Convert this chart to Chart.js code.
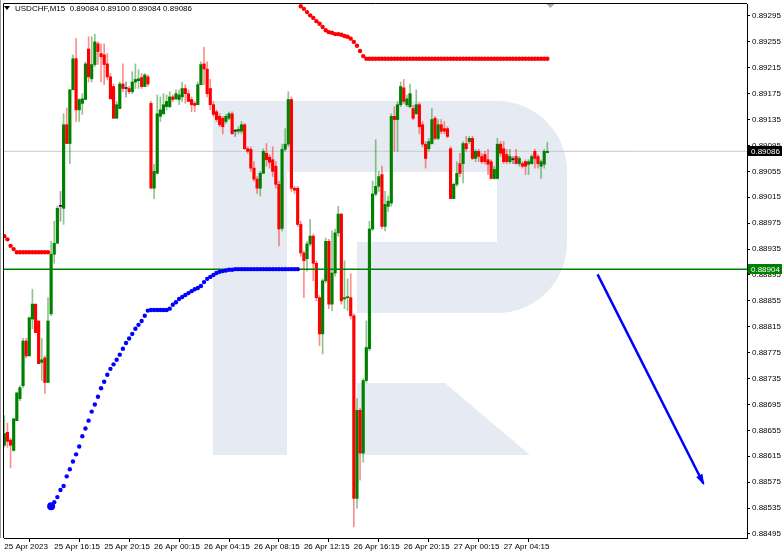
<!DOCTYPE html>
<html>
<head>
<meta charset="utf-8">
<title>USDCHF M15</title>
<script src="https://cdn.jsdelivr.net/npm/chart.js@4.4.0/dist/chart.umd.min.js"></script>
<style>
  html, body { margin: 0; padding: 0; background: #fff; }
  #root { width: 782px; height: 555px; }
</style>
</head>
<body>
<div id="root"><canvas id="myChart" width="782" height="555"></canvas></div>
<script>
const $i = document.getElementById.bind(document);

const symbol = "USDCHF,M15";

// time axis: bar index where each label sits
const xTickIdx = [0, 16, 32, 48, 64, 80, 96, 112, 128, 144, 160];
const xTickLabels = ["25 Apr 2023", "25 Apr 16:15", "25 Apr 20:15", "26 Apr 00:15", "26 Apr 04:15",
    "26 Apr 08:15", "26 Apr 12:15", "26 Apr 16:15", "26 Apr 20:15", "27 Apr 00:15", "27 Apr 04:15"];

// price axis
const yTicks = [0.88495, 0.88535, 0.88575, 0.88615, 0.88655, 0.88695, 0.88735, 0.88775, 0.88815, 0.88855,
    0.88895, 0.88935, 0.88975, 0.89015, 0.89055, 0.89095, 0.89135, 0.89175, 0.89215, 0.89255, 0.89295];

// M15 candles
const openP = [
0.88632, 0.88652, 0.88640, 0.88624, 0.88670, 0.88704, 0.88724, 0.88793, 0.88770, 0.88827,
0.88850, 0.88824, 0.88760, 0.88767, 0.88729, 0.88835, 0.88927, 0.88944, 0.89001, 0.88998,
0.89127, 0.89098, 0.89181, 0.89229, 0.89150, 0.89160, 0.89166, 0.89244, 0.89198, 0.89220,
0.89252, 0.89237, 0.89235, 0.89221, 0.89201, 0.89186, 0.89137, 0.89152, 0.89190, 0.89183,
0.89183, 0.89178, 0.89193, 0.89195, 0.89200, 0.89186, 0.89201, 0.89160, 0.89029, 0.89052,
0.89140, 0.89144, 0.89155, 0.89155, 0.89170, 0.89167, 0.89166, 0.89170, 0.89183, 0.89175,
0.89166, 0.89160, 0.89158, 0.89189, 0.89221, 0.89213, 0.89183, 0.89158, 0.89147,
0.89140, 0.89137, 0.89132, 0.89137, 0.89144, 0.89117, 0.89117, 0.89117, 0.89127, 0.89090,
0.89089, 0.89060, 0.89043, 0.89029, 0.89052, 0.89083, 0.89077, 0.89073, 0.89063, 0.89035,
0.88967, 0.89089, 0.89097, 0.89166, 0.89029, 0.89029, 0.88973, 0.88929, 0.88920, 0.88943,
0.88955, 0.88913, 0.88860, 0.88804, 0.88886, 0.88947, 0.88850, 0.88898, 0.88960, 0.88989,
0.88858, 0.88860, 0.88860, 0.88832, 0.88550, 0.88686, 0.88620, 0.88732, 0.88781, 0.88966,
0.89020, 0.89032, 0.89050, 0.88970, 0.89001, 0.89006, 0.89140, 0.89135, 0.89158, 0.89184,
0.89158, 0.89155, 0.89152, 0.89144, 0.89158, 0.89127, 0.89097, 0.89090, 0.89098, 0.89137,
0.89106, 0.89127, 0.89121, 0.89121, 0.89090, 0.89013, 0.89035, 0.89067, 0.89067, 0.89098,
0.89101, 0.89106, 0.89075, 0.89086, 0.89078, 0.89081, 0.89073, 0.89070, 0.89044,
0.89044, 0.89097, 0.89090, 0.89081, 0.89070, 0.89073, 0.89078, 0.89067, 0.89067, 0.89070,
0.89066, 0.89067, 0.89086, 0.89078, 0.89063, 0.89066, 0.89084
];
const highP = [
0.88678, 0.88666, 0.88643, 0.88673, 0.88713, 0.88724, 0.88797, 0.88797, 0.88830, 0.88873,
0.88850, 0.88824, 0.88797, 0.88770, 0.88860, 0.88947, 0.88978, 0.89001, 0.89024, 0.89144,
0.89153, 0.89181, 0.89235, 0.89260, 0.89167, 0.89175, 0.89224, 0.89263, 0.89263, 0.89267,
0.89255, 0.89252, 0.89252, 0.89237, 0.89206, 0.89190, 0.89163, 0.89193, 0.89221, 0.89193,
0.89186, 0.89209, 0.89221, 0.89212, 0.89206, 0.89206, 0.89204, 0.89163, 0.89066, 0.89173,
0.89170, 0.89175, 0.89173, 0.89178, 0.89173, 0.89181, 0.89181, 0.89193, 0.89189, 0.89181,
0.89170, 0.89163, 0.89193, 0.89224, 0.89247, 0.89224, 0.89197, 0.89163, 0.89150,
0.89144, 0.89140, 0.89143, 0.89147, 0.89147, 0.89120, 0.89124, 0.89132, 0.89129, 0.89093,
0.89093, 0.89070, 0.89047, 0.89055, 0.89090, 0.89098, 0.89081, 0.89093, 0.89070, 0.89040,
0.89097, 0.89121, 0.89178, 0.89170, 0.89032, 0.89032, 0.88978, 0.88932, 0.88947, 0.88981,
0.88958, 0.88917, 0.88863, 0.88889, 0.88952, 0.88950, 0.88963, 0.88966, 0.89001, 0.88990,
0.88917, 0.88889, 0.88897, 0.88835, 0.88704, 0.88689, 0.88735, 0.88824, 0.88978, 0.89040,
0.89104, 0.89055, 0.89063, 0.89024, 0.89017, 0.89144, 0.89155, 0.89163, 0.89193, 0.89197,
0.89173, 0.89190, 0.89157, 0.89181, 0.89161, 0.89132, 0.89101, 0.89106, 0.89152, 0.89140,
0.89135, 0.89135, 0.89132, 0.89124, 0.89093, 0.89037, 0.89070, 0.89083, 0.89101, 0.89109,
0.89109, 0.89109, 0.89089, 0.89089, 0.89083, 0.89086, 0.89089, 0.89073, 0.89063,
0.89106, 0.89101, 0.89101, 0.89089, 0.89089, 0.89078, 0.89089, 0.89078, 0.89070, 0.89073,
0.89073, 0.89081, 0.89089, 0.89081, 0.89073, 0.89089, 0.89100
];
const lowP = [
0.88629, 0.88629, 0.88597, 0.88623, 0.88670, 0.88701, 0.88721, 0.88767, 0.88770, 0.88812,
0.88806, 0.88758, 0.88732, 0.88712, 0.88729, 0.88832, 0.88913, 0.88944, 0.88978, 0.88973,
0.89098, 0.89067, 0.89181, 0.89132, 0.89132, 0.89143, 0.89166, 0.89193, 0.89193, 0.89217,
0.89220, 0.89193, 0.89189, 0.89197, 0.89167, 0.89137, 0.89137, 0.89152, 0.89178, 0.89170,
0.89175, 0.89175, 0.89183, 0.89183, 0.89183, 0.89186, 0.89187, 0.89029, 0.89013, 0.89052,
0.89132, 0.89143, 0.89150, 0.89153, 0.89163, 0.89166, 0.89158, 0.89163, 0.89160, 0.89163,
0.89147, 0.89147, 0.89158, 0.89189, 0.89189, 0.89170, 0.89150, 0.89140, 0.89132,
0.89124, 0.89113, 0.89129, 0.89135, 0.89113, 0.89109, 0.89113, 0.89113, 0.89089, 0.89083,
0.89055, 0.89040, 0.89021, 0.89017, 0.89052, 0.89063, 0.89060, 0.89047, 0.89029, 0.88940,
0.88963, 0.89086, 0.89093, 0.89024, 0.89021, 0.88970, 0.88924, 0.88860, 0.88901, 0.88940,
0.88886, 0.88855, 0.88786, 0.88773, 0.88883, 0.88843, 0.88840, 0.88893, 0.88955, 0.88850,
0.88843, 0.88840, 0.88827, 0.88506, 0.88535, 0.88578, 0.88606, 0.88729, 0.88778, 0.88963,
0.89017, 0.89024, 0.88966, 0.88963, 0.88993, 0.89001, 0.89086, 0.89086, 0.89155, 0.89160,
0.89155, 0.89153, 0.89135, 0.89143, 0.89113, 0.89093, 0.89060, 0.89086, 0.89097, 0.89104,
0.89104, 0.89113, 0.89113, 0.89107, 0.89013, 0.89013, 0.89032, 0.89047, 0.89037, 0.89086,
0.89098, 0.89073, 0.89070, 0.89070, 0.89067, 0.89066, 0.89050, 0.89043, 0.89043,
0.89043, 0.89078, 0.89067, 0.89067, 0.89067, 0.89067, 0.89066, 0.89063, 0.89060, 0.89050,
0.89050, 0.89066, 0.89060, 0.89060, 0.89044, 0.89060, 0.89084
];
const closeP = [
0.88650, 0.88638, 0.88632, 0.88673, 0.88713, 0.88721, 0.88793, 0.88770, 0.88829, 0.88850,
0.88806, 0.88758, 0.88764, 0.88729, 0.88824, 0.88927, 0.88944, 0.88998, 0.89001, 0.89127,
0.89098, 0.89181, 0.89229, 0.89150, 0.89166, 0.89167, 0.89221, 0.89201, 0.89220, 0.89255,
0.89240, 0.89232, 0.89220, 0.89201, 0.89167, 0.89137, 0.89158, 0.89190, 0.89183, 0.89183,
0.89178, 0.89193, 0.89197, 0.89198, 0.89186, 0.89204, 0.89190, 0.89029, 0.89055, 0.89144,
0.89150, 0.89158, 0.89163, 0.89170, 0.89166, 0.89175, 0.89173, 0.89183, 0.89175, 0.89163,
0.89158, 0.89157, 0.89189, 0.89220, 0.89213, 0.89175, 0.89158, 0.89143, 0.89135,
0.89127, 0.89124, 0.89140, 0.89144, 0.89113, 0.89117, 0.89120, 0.89127, 0.89090, 0.89086,
0.89060, 0.89043, 0.89029, 0.89052, 0.89086, 0.89073, 0.89069, 0.89055, 0.89035, 0.88966,
0.89089, 0.89097, 0.89166, 0.89029, 0.89026, 0.88973, 0.88929, 0.88917, 0.88943, 0.88955,
0.88913, 0.88860, 0.88804, 0.88886, 0.88947, 0.88850, 0.88898, 0.88960, 0.88989, 0.88855,
0.88860, 0.88861, 0.88832, 0.88550, 0.88686, 0.88620, 0.88732, 0.88783, 0.88966, 0.89020,
0.89032, 0.89047, 0.88970, 0.89004, 0.89009, 0.89140, 0.89135, 0.89158, 0.89186, 0.89163,
0.89167, 0.89175, 0.89137, 0.89158, 0.89124, 0.89097, 0.89075, 0.89101, 0.89135, 0.89106,
0.89127, 0.89117, 0.89117, 0.89109, 0.89013, 0.89035, 0.89052, 0.89052, 0.89098, 0.89090,
0.89106, 0.89075, 0.89086, 0.89078, 0.89070, 0.89070, 0.89066, 0.89044, 0.89058,
0.89097, 0.89083, 0.89070, 0.89070, 0.89078, 0.89073, 0.89067, 0.89075, 0.89063, 0.89063,
0.89070, 0.89078, 0.89075, 0.89067, 0.89070, 0.89086, 0.89086
];

// trailing dots indicator (first bar index + values)
const redLowStart = 0;
const redLow = [0.88955, 0.88950, 0.88940, 0.88935, 0.88930, 0.88930, 0.88930, 0.88930, 0.88930, 0.88930,
    0.88930, 0.88930, 0.88930, 0.88930, 0.88930];
const blueStart = 15;
const blueDots = [
0.88538, 0.88544, 0.88552, 0.88563, 0.88569, 0.88584, 0.88595, 0.88607, 0.88618, 0.88630,
0.88646, 0.88658, 0.88670, 0.88684, 0.88695, 0.88707, 0.88720, 0.88730, 0.88741, 0.88750,
0.88757, 0.88764, 0.88772, 0.88781, 0.88790, 0.88797, 0.88804, 0.88812, 0.88818, 0.88824,
0.88832, 0.88840, 0.88841, 0.88841, 0.88841, 0.88841, 0.88841, 0.88841, 0.88843, 0.88849,
0.88853, 0.88858, 0.88861, 0.88864, 0.88867, 0.88870, 0.88873, 0.88875, 0.88878, 0.88884,
0.88889, 0.88892, 0.88895, 0.88898, 0.88900, 0.88901, 0.88902, 0.88903, 0.88903, 0.88904,
0.88904, 0.88904, 0.88904, 0.88904, 0.88904, 0.88904, 0.88904, 0.88904, 0.88904, 0.88904,
0.88904, 0.88904, 0.88904, 0.88904, 0.88904, 0.88904, 0.88904, 0.88904, 0.88904, 0.88904
];
const redTopStart = 95;
const redTop = [
0.89310, 0.89306, 0.89301, 0.89296, 0.89292, 0.89287, 0.89283, 0.89278, 0.89273, 0.89270,
0.89269, 0.89267, 0.89267, 0.89266, 0.89264, 0.89263, 0.89260, 0.89255, 0.89249, 0.89241,
0.89233, 0.89229, 0.89229, 0.89229, 0.89229, 0.89229, 0.89229, 0.89229, 0.89229, 0.89229,
0.89229, 0.89229, 0.89229, 0.89229, 0.89229, 0.89229, 0.89229, 0.89229, 0.89229, 0.89229,
0.89229, 0.89229, 0.89229, 0.89229, 0.89229, 0.89229, 0.89229, 0.89229, 0.89229, 0.89229,
0.89229, 0.89229, 0.89229, 0.89229, 0.89229, 0.89229, 0.89229, 0.89229, 0.89229, 0.89229,
0.89229, 0.89229, 0.89229, 0.89229, 0.89229, 0.89229, 0.89229, 0.89229, 0.89229, 0.89229,
0.89229, 0.89229, 0.89229, 0.89229, 0.89229, 0.89229, 0.89229, 0.89229, 0.89229, 0.89229
];

// horizontal levels
const bidPrice = 0.89086;
const levelPrice = 0.88904;

// forecast arrow [bar index, price]
const arrowFrom = [190.1, 0.88896];
const arrowTo = [224.0, 0.88573];

const page = {

    init: function() {
        this.xMin = -0.1;
        this.xMax = 237.98;
        this.yMin = 0.884888;
        this.yMax = 0.893135;
        this.font = '"Liberation Sans", Arial, sans-serif';
        Chart.defaults.font.family = this.font;
        Chart.defaults.font.size = 8;
        Chart.defaults.color = '#000';
    },

    candleColor: function(i, alpha) {
        if (closeP[i] > openP[i]) return `rgba(0,128,0,${alpha})`;
        if (closeP[i] < openP[i]) return `rgba(255,0,0,${alpha})`;
        return `rgba(30,30,30,${alpha})`;
    },

    dots: function(start, values) {
        return values.map((v, k) => ({ x: start + k, y: v }));
    },

    // big light "R" behind the candles
    drawLogo: function(ctx, a) {
        ctx.save();
        ctx.beginPath();
        ctx.rect(a.left, a.top, a.width, a.height);
        ctx.clip();
        ctx.fillStyle = '#E6EBF3';
        ctx.fillRect(213, 101, 74, 354);
        ctx.beginPath();
        ctx.moveTo(213, 101);
        ctx.lineTo(497, 101);
        ctx.arcTo(567, 101, 567, 171, 70);
        ctx.lineTo(567, 243);
        ctx.arcTo(567, 313, 497, 313, 70);
        ctx.lineTo(357, 313);
        ctx.lineTo(357, 242);
        ctx.lineTo(497, 242);
        ctx.lineTo(497, 172);
        ctx.lineTo(213, 172);
        ctx.closePath();
        ctx.fill();
        ctx.beginPath();
        ctx.moveTo(357, 383);
        ctx.lineTo(445, 383);
        ctx.lineTo(530, 455);
        ctx.lineTo(357, 455);
        ctx.closePath();
        ctx.fill();
        ctx.restore();
    },

    priceBox: function(ctx, y, text, bg) {
        ctx.fillStyle = bg;
        ctx.fillRect(748, Math.round(y) - 5, 34, 10);
        ctx.fillStyle = '#fff';
        ctx.textBaseline = 'middle';
        ctx.textAlign = 'left';
        ctx.fillText(text, 751, Math.round(y) + 0.5);
    },

    overlay: function() {
        const self = this;
        return {
            id: 'overlay',
            beforeDatasetsDraw(chart) {
                self.drawLogo(chart.ctx, chart.chartArea);
            },
            afterDraw(chart) {
                const ctx = chart.ctx, a = chart.chartArea;
                const xs = chart.scales.x, ys = chart.scales.y;
                ctx.save();
                // frame left + top
                ctx.strokeStyle = '#000';
                ctx.lineWidth = 1;
                ctx.beginPath();
                ctx.moveTo(a.left - 0.5, a.bottom);
                ctx.lineTo(a.left - 0.5, a.top - 0.5);
                ctx.lineTo(a.right, a.top - 0.5);
                ctx.stroke();
                ctx.strokeStyle = '#999';
                ctx.beginPath();
                ctx.moveTo(0.5, 0);
                ctx.lineTo(0.5, a.bottom);
                ctx.stroke();

                // arrow head
                const x1 = xs.getPixelForValue(arrowFrom[0]), y1 = ys.getPixelForValue(arrowFrom[1]);
                const x2 = xs.getPixelForValue(arrowTo[0]), y2 = ys.getPixelForValue(arrowTo[1]);
                const ang = Math.atan2(y2 - y1, x2 - x1);
                ctx.fillStyle = '#0000FF';
                ctx.beginPath();
                ctx.moveTo(x2 + 2 * Math.cos(ang), y2 + 2 * Math.sin(ang));
                ctx.lineTo(x2 - 9 * Math.cos(ang) + 3.5 * Math.sin(ang), y2 - 9 * Math.sin(ang) - 3.5 * Math.cos(ang));
                ctx.lineTo(x2 - 9 * Math.cos(ang) - 3.5 * Math.sin(ang), y2 - 9 * Math.sin(ang) + 3.5 * Math.cos(ang));
                ctx.closePath();
                ctx.fill();

                // shift marker
                const mx = xs.getPixelForValue(openP.length);
                ctx.fillStyle = '#aaa';
                ctx.beginPath();
                ctx.moveTo(mx - 4, a.top);
                ctx.lineTo(mx + 4, a.top);
                ctx.lineTo(mx, a.top + 4);
                ctx.closePath();
                ctx.fill();

                // header
                const n = openP.length - 1;
                ctx.fillStyle = '#000';
                ctx.beginPath();
                ctx.moveTo(4, 6);
                ctx.lineTo(10, 6);
                ctx.lineTo(7, 10);
                ctx.closePath();
                ctx.fill();
                ctx.font = '8px ' + self.font;
                ctx.textBaseline = 'middle';
                ctx.textAlign = 'left';
                ctx.fillText(`${symbol}  ${openP[n].toFixed(5)} ${highP[n].toFixed(5)} ${lowP[n].toFixed(5)} ${closeP[n].toFixed(5)}`, 15, 8.5);

                // price labels on the axis
                self.priceBox(ctx, ys.getPixelForValue(bidPrice), bidPrice.toFixed(5), '#000');
                self.priceBox(ctx, ys.getPixelForValue(levelPrice), levelPrice.toFixed(5), '#008000');
                ctx.restore();
            }
        };
    },

    render: function() {
        const ctx = $i('myChart').getContext('2d');
        const idx = openP.map((_, i) => i);
        const self = this;

        new Chart(ctx, {
            type: 'bar',
            data: {
                datasets: [
                    {
                        type: 'line', label: 'arrow', order: 0,
                        data: [{ x: arrowFrom[0], y: arrowFrom[1] }, { x: arrowTo[0], y: arrowTo[1] }],
                        borderColor: '#0000FF', borderWidth: 2.5, pointRadius: 0,
                    },
                    {
                        type: 'line', label: 'blue', order: 1, showLine: false,
                        data: this.dots(blueStart, blueDots),
                        pointBackgroundColor: '#0000FF', pointBorderWidth: 0,
                        pointRadius: c => c.dataIndex === 0 ? 4 : 2.2,
                    },
                    {
                        type: 'line', label: 'redLow', order: 1, showLine: false,
                        data: this.dots(redLowStart, redLow),
                        pointBackgroundColor: '#FF0000', pointBorderWidth: 0, pointRadius: 2.2,
                    },
                    {
                        type: 'line', label: 'redTop', order: 1, showLine: false,
                        data: this.dots(redTopStart, redTop),
                        pointBackgroundColor: '#FF0000', pointBorderWidth: 0, pointRadius: 2.2,
                    },
                    {
                        type: 'line', label: 'level', order: 2,
                        data: [{ x: this.xMin, y: levelPrice }, { x: this.xMax, y: levelPrice }],
                        borderColor: '#008000', borderWidth: 1.5, pointRadius: 0,
                    },
                    {
                        label: 'body', order: 3, grouped: false,
                        data: idx.map(i => ({ x: i, y: [openP[i], closeP[i]] })),
                        backgroundColor: idx.map(i => self.candleColor(i, 1)),
                        barThickness: 2.5, minBarLength: 1, borderWidth: 0,
                    },
                    {
                        label: 'wick', order: 4, grouped: false,
                        data: idx.map(i => ({ x: i, y: [lowP[i], highP[i]] })),
                        backgroundColor: idx.map(i => self.candleColor(i, 0.45)),
                        barThickness: 1, borderWidth: 0,
                    },
                    {
                        type: 'line', label: 'bid', order: 5,
                        data: [{ x: this.xMin, y: bidPrice }, { x: this.xMax, y: bidPrice }],
                        borderColor: '#C8C8C8', borderWidth: 1, pointRadius: 0,
                    },
                ]
            },
            options: {
                animation: false,
                responsive: false,
                devicePixelRatio: 1,
                layout: { padding: { left: 3, top: 2, right: 0, bottom: 0 } },
                plugins: { legend: { display: false }, tooltip: { enabled: false } },
                scales: {
                    x: {
                        type: 'linear', min: this.xMin, max: this.xMax, offset: false,
                        grid: { display: true, drawOnChartArea: false, drawTicks: true, tickLength: 4, color: '#000' },
                        border: { display: true, color: '#000' },
                        afterBuildTicks: s => { s.ticks = xTickIdx.map(v => ({ value: v })); },
                        afterFit: s => { s.height = 17; s.paddingLeft = 0; s.paddingRight = 0; },
                        ticks: {
                            autoSkip: false, maxRotation: 0, align: 'start', padding: 0,
                            callback: v => xTickLabels[xTickIdx.indexOf(v)],
                        },
                    },
                    y: {
                        position: 'right', min: this.yMin, max: this.yMax,
                        grid: { display: true, drawOnChartArea: false, drawTicks: true, tickLength: 3, color: '#000' },
                        border: { display: true, color: '#000' },
                        afterBuildTicks: s => { s.ticks = yTicks.map(v => ({ value: v })); },
                        afterFit: s => { s.width = 35; s.paddingTop = 0; s.paddingBottom = 0; },
                        ticks: { padding: 2, callback: v => v.toFixed(5) },
                    }
                }
            },
            plugins: [this.overlay()]
        });
    },

    start: function() {
        this.init();
        this.render();
    }
};

page.start();
</script>
</body>
</html>
